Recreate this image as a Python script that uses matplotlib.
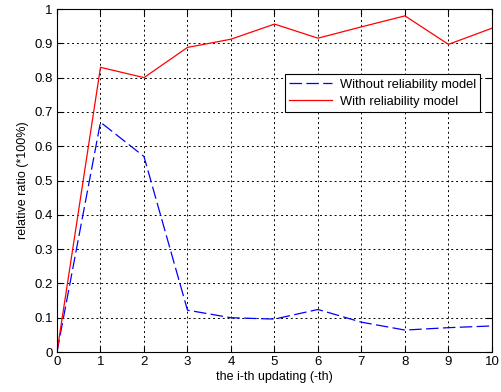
import matplotlib
matplotlib.use('Agg')
import matplotlib.pyplot as plt

plt.rcParams['font.family'] = ['Liberation Sans', 'DejaVu Sans']

updates = [0, 1, 2, 3, 4, 5, 6, 7, 8, 9, 10]
without_model = [0, 0.67, 0.57, 0.122, 0.10, 0.096, 0.124, 0.087, 0.064, 0.071, 0.076]
with_model = [0, 0.83, 0.80, 0.888, 0.912, 0.956, 0.915, 0.948, 0.98, 0.897, 0.944]

x_ticks = list(range(11))
y_ticks = [0, 0.1, 0.2, 0.3, 0.4, 0.5, 0.6, 0.7, 0.8, 0.9, 1]

fig = plt.figure(figsize=(5.02, 3.92), dpi=100)
ax = fig.add_axes([0.1135, 0.102, 0.8665, 0.875])

ax.plot(updates, without_model, color='blue', linestyle='--', dashes=(10, 3.5),
        linewidth=0.9, label='Without reliability model')
ax.plot(updates, with_model, color='red', linewidth=0.9,
        label='With reliability model')

ax.set_xlim(0, 10)
ax.set_ylim(0, 1)
ax.set_xticks(x_ticks)
ax.set_yticks(y_ticks)
ax.set_yticklabels(['0', '0.1', '0.2', '0.3', '0.4', '0.5', '0.6', '0.7', '0.8', '0.9', '1'])
ax.tick_params(direction='in', top=True, right=True, labelsize=9.5, length=4, pad=3)
ax.grid(True, color='black', linestyle=(0, (2, 3)), linewidth=0.7)
for s in ax.spines.values():
    s.set_linewidth(0.8)

ax.set_xlabel('the i-th updating (-th)', fontsize=9, labelpad=2)
ax.set_ylabel('relative ratio (*100%)', fontsize=9, labelpad=4)

leg = ax.legend(loc='upper left', bbox_to_anchor=(0.524, 0.81), borderaxespad=0,
                fontsize=9.3, fancybox=False, framealpha=1, edgecolor='black',
                handlelength=3.3, handletextpad=0.6, borderpad=0.35, labelspacing=0.4)
leg.get_frame().set_linewidth(0.8)

fig.savefig('out.png', dpi=100)
